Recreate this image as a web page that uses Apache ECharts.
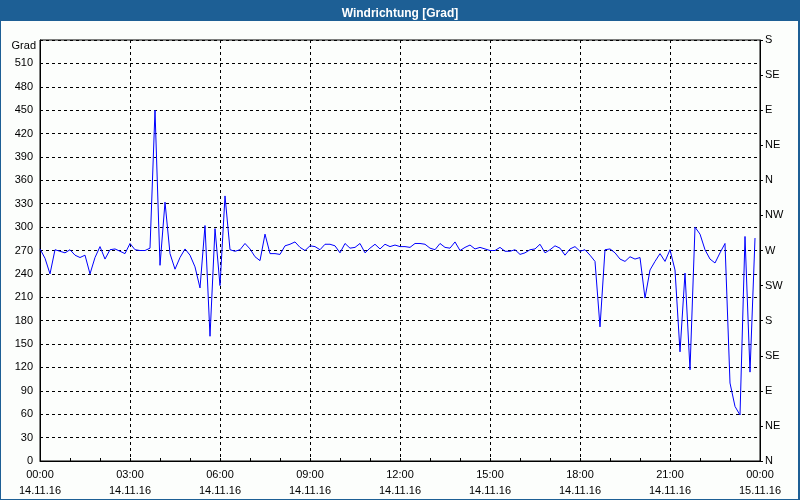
<!DOCTYPE html>
<html>
<head>
<meta charset="utf-8">
<script src="https://cdn.jsdelivr.net/npm/echarts@6/dist/echarts.min.js"></script>
<style>
html,body{margin:0;padding:0;background:#fcfefc;}
#chart{width:800px;height:500px;}
</style>
</head>
<body>
<div id="chart"></div>
<script>
// Wind direction in degrees, one reading every 10 minutes from 14.11.16 00:00
const values = [
  272,260,240,271,269,267,271,264,261,264,240,261,275,259,271,272,269,266,
  279,271,270,270,273,450,251,332,266,246,261,272,264,249,222,302,160,298,
  225,340,271,269,271,279,272,262,257,291,266,266,265,276,278,281,274,270,
  276,275,271,278,278,276,267,279,273,274,279,267,273,278,272,278,275,277,
  275,275,274,279,279,278,273,271,279,274,273,281,270,274,277,272,274,272,
  270,270,274,269,269,271,265,267,271,272,278,267,271,276,273,264,272,275,
  269,271,264,256,172,271,272,267,259,256,262,259,261,209,245,256,266,256,
  271,245,140,241,117,300,291,271,259,254,267,279,100,70,59,288,114,286
];
const stepMinutes = 10;
const startDate = '14.11.16';
const endDate = '15.11.16';
const dirLabels = ['N','NE','E','SE','S','SW','W','NW','N','NE','E','SE','S'];
const titleText = 'Windrichtung [Grad]';
const unitName = 'Grad';

const FONT = 'Liberation Sans';
const pad = n => (n < 10 ? '0' : '') + n;

const chart = echarts.init(document.getElementById('chart'), null, {renderer: 'canvas'});
chart.setOption({
  animation: false,
  backgroundColor: '#fcfefc',
  graphic: [
    {type: 'rect', silent: true, shape: {x: 0, y: 0, width: 800, height: 21}, style: {fill: '#1d5f95'}},
    {type: 'rect', silent: true, shape: {x: 0, y: 0, width: 1, height: 500}, style: {fill: '#1d5f95'}},
    {type: 'rect', silent: true, shape: {x: 798, y: 0, width: 2, height: 500}, style: {fill: '#1d5f95'}},
    {type: 'rect', silent: true, shape: {x: 0, y: 499, width: 800, height: 1}, style: {fill: '#1d5f95'}}
  ],
  title: {
    text: titleText,
    left: 'center',
    top: 3,
    textStyle: {color: '#ffffff', fontSize: 12, fontWeight: 'bold', fontFamily: FONT}
  },
  grid: {
    left: 40, right: 40, top: 40, bottom: 39,
    show: true, borderColor: '#000', borderWidth: 1, backgroundColor: 'transparent',
    outerBoundsMode: 'none'
  },
  xAxis: {
    type: 'value', min: 0, max: 1440, interval: 180,
    axisLine: {show: true, lineStyle: {color: '#000', width: 1}},
    axisTick: {show: true, inside: true, length: 3, lineStyle: {color: '#000'}},
    minorTick: {show: true, splitNumber: 3, length: 3, lineStyle: {color: '#000'}},
    splitLine: {show: true, lineStyle: {color: '#000', width: 1, type: [3, 3]}},
    axisLabel: {
      margin: 6, lineHeight: 16, fontSize: 11, color: '#000', fontFamily: FONT,
      formatter: v => {
        const h = Math.floor(v / 60) % 24;
        const m = v % 60;
        return pad(h) + ':' + pad(m) + '\n' + (v >= 1440 ? endDate : startDate);
      }
    }
  },
  yAxis: [
    {
      type: 'value', min: 0, max: 540, interval: 30, position: 'left',
      name: unitName, nameLocation: 'end', nameGap: -6,
      nameTextStyle: {align: 'right', verticalAlign: 'middle', padding: [0, 4, 0, 0], fontSize: 11, color: '#000', fontFamily: FONT},
      axisLine: {show: true, lineStyle: {color: '#000', width: 1}},
      axisTick: {show: false},
      splitLine: {show: true, lineStyle: {color: '#000', width: 1, type: [3, 3]}},
      axisLabel: {
        margin: 7, fontSize: 11, color: '#000', fontFamily: FONT,
        formatter: v => (v === 540 ? '' : String(v))
      }
    },
    {
      type: 'value', min: 0, max: 540, interval: 45, position: 'right',
      axisLine: {show: true, lineStyle: {color: '#000', width: 1}},
      axisTick: {show: true, inside: false, length: 3, lineStyle: {color: '#000'}},
      splitLine: {show: false},
      axisLabel: {
        margin: 5, fontSize: 11, color: '#000', fontFamily: FONT,
        formatter: v => dirLabels[Math.round(v / 45)] || ''
      }
    }
  ],
  series: [{
    type: 'line',
    yAxisIndex: 0,
    data: values.map((v, i) => [i * stepMinutes, v]),
    showSymbol: false,
    symbol: 'none',
    lineStyle: {color: '#0000ff', width: 1},
    z: 5
  }]
});
</script>
</body>
</html>
